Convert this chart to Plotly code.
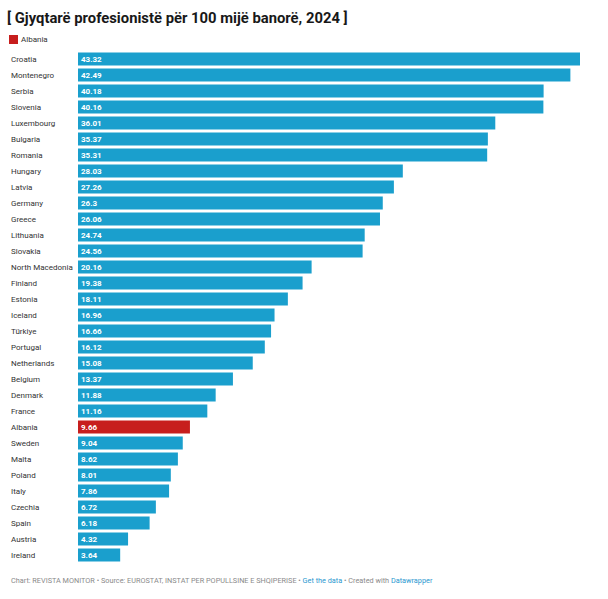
import plotly.graph_objects as go

countries = ["Croatia", "Montenegro", "Serbia", "Slovenia", "Luxembourg", "Bulgaria", "Romania",
             "Hungary", "Latvia", "Germany", "Greece", "Lithuania", "Slovakia", "North Macedonia",
             "Finland", "Estonia", "Iceland", "Türkiye", "Portugal", "Netherlands", "Belgium",
             "Denmark", "France", "Albania", "Sweden", "Malta", "Poland", "Italy", "Czechia",
             "Spain", "Austria", "Ireland"]
values = [43.32, 42.49, 40.18, 40.16, 36.01, 35.37, 35.31, 28.03, 27.26, 26.3, 26.06, 24.74,
          24.56, 20.16, 19.38, 18.11, 16.96, 16.66, 16.12, 15.08, 13.37, 11.88, 11.16, 9.66,
          9.04, 8.62, 8.01, 7.86, 6.72, 6.18, 4.32, 3.64]
highlight = "Albania"

BLUE = "#1a9fcd"
RED = "#c71e1d"

W, H = 608, 599
ML, MR, MT, MB = 78, 28, 51, 36
PW = W - ML - MR
PH = H - MT - MB

colors = [RED if c == highlight else BLUE for c in countries]

fig = go.Figure()
fig.add_trace(go.Bar(
    x=values, y=countries, orientation="h",
    marker=dict(color=colors, line=dict(width=0)),
    text=[f"{v:g}" for v in values],
    textposition="inside", insidetextanchor="start",
    textfont=dict(family="Roboto", size=8, color="white", weight="bold"),
    textangle=0,
    hoverinfo="skip", showlegend=False,
))

def px_x(p):
    return (p - ML) / PW

def px_y(p):
    return 1 - (p - MT) / PH

annotations = []
for c in countries:
    annotations.append(dict(
        x=px_x(8.5), xref="paper", y=c, yref="y", text=c, showarrow=False,
        xanchor="left", yanchor="middle",
        font=dict(family="Roboto", size=8, color="#333333"),
    ))

# legend
annotations.append(dict(
    x=px_x(19), xref="paper", y=px_y(39.5), yref="paper", text="Albania", showarrow=False,
    xanchor="left", yanchor="middle", font=dict(family="Roboto", size=8, color="#333333"),
))

# footer
annotations.append(dict(
    x=px_x(8.5), xref="paper", y=px_y(580), yref="paper", showarrow=False,
    xanchor="left", yanchor="middle",
    text=("Chart: REVISTA MONITOR • Source: EUROSTAT, INSTAT PER POPULLSINE E SHQIPERISE • "
          "<span style='color:#2a98d0'>Get the data</span> • Created with "
          "<span style='color:#2a98d0'>Datawrapper</span>"),
    font=dict(family="Roboto", size=7.3, color="#8a8a8a"),
))

shapes = [dict(
    type="rect", xref="paper", yref="paper",
    x0=px_x(9), x1=px_x(18), y0=px_y(35), y1=px_y(44),
    fillcolor=RED, line=dict(width=0),
)]

fig.update_layout(
    width=W, height=H,
    margin=dict(l=ML, r=MR, t=MT, b=MB, pad=0),
    paper_bgcolor="white", plot_bgcolor="white",
    title=dict(
        text="<b>[ Gjyqtarë profesionistë për 100 mijë banorë, 2024 ]</b>",
        x=7 / W, xref="container", xanchor="left",
        y=1 - 18 / H, yref="container", yanchor="middle",
        font=dict(family="Roboto", size=14.8, color="#181818"),
    ),
    xaxis=dict(range=[0, 43.32], visible=False, fixedrange=True),
    yaxis=dict(autorange="reversed", showticklabels=False, showgrid=False,
               zeroline=False, showline=False, ticks="", fixedrange=True),
    bargap=0.19,
    annotations=annotations,
    shapes=shapes,
    uniformtext=dict(minsize=8, mode="show"),
)

fig.write_html("out.html", config={"displayModeBar": False})
